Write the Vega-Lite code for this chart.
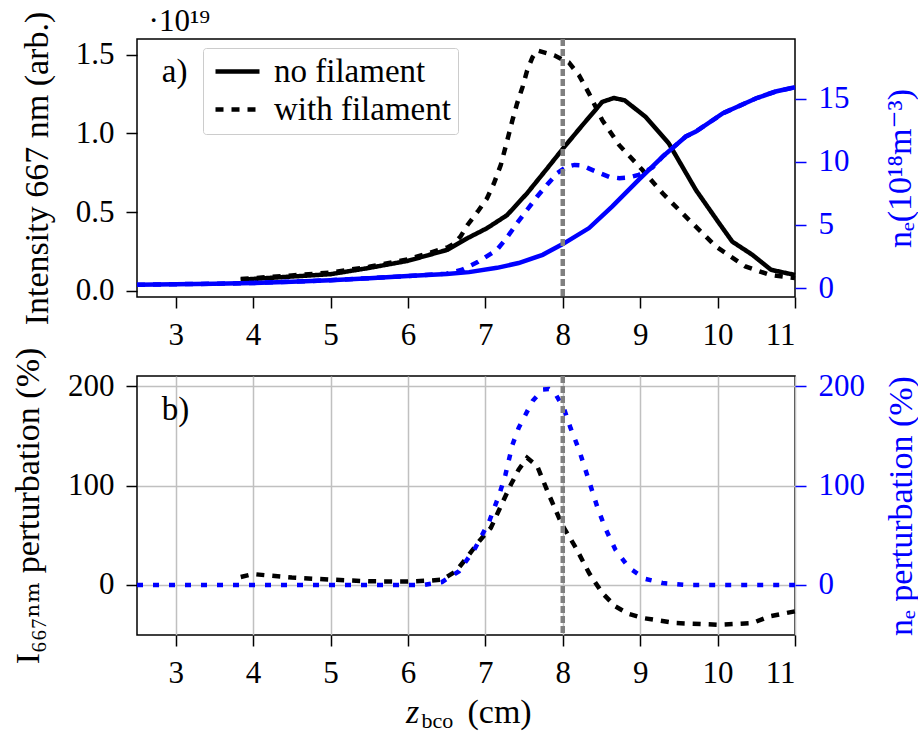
{
  "$schema": "https://vega.github.io/schema/vega-lite/v6.json",
  "padding": {"left": 10, "top": 4, "right": 3, "bottom": 3},
  "background": "white",
  "config": {
    "font": "Liberation Serif, DejaVu Serif, serif",
    "view": {"stroke": "black", "strokeWidth": 1.5},
    "axis": {
      "labelFont": "Liberation Serif, DejaVu Serif, serif", "titleFont": "Liberation Serif, DejaVu Serif, serif",
      "labelFontSize": 31, "titleFontSize": 34, "titleFontWeight": "normal",
      "tickSize": 11, "tickWidth": 1.5, "labelPadding": 12, "domain": false, "grid": false,
      "labelColor": "black", "titleColor": "black", "tickColor": "black", "labelOverlap": false
    },
    "text": {"font": "Liberation Serif, DejaVu Serif, serif"},
    "legend": {"labelFont": "Liberation Serif, DejaVu Serif, serif"}
  },
  "spacing": -5,
  "datasets": {
    "top": [
      {"z": 3.84, "qty": "I", "case": "no filament", "v": 0.07},
      {"z": 4.0, "qty": "I", "case": "no filament", "v": 0.075},
      {"z": 4.5, "qty": "I", "case": "no filament", "v": 0.09},
      {"z": 5.0, "qty": "I", "case": "no filament", "v": 0.105},
      {"z": 5.5, "qty": "I", "case": "no filament", "v": 0.145},
      {"z": 6.0, "qty": "I", "case": "no filament", "v": 0.19},
      {"z": 6.51, "qty": "I", "case": "no filament", "v": 0.26},
      {"z": 6.77, "qty": "I", "case": "no filament", "v": 0.334},
      {"z": 7.02, "qty": "I", "case": "no filament", "v": 0.397},
      {"z": 7.28, "qty": "I", "case": "no filament", "v": 0.48},
      {"z": 7.54, "qty": "I", "case": "no filament", "v": 0.62},
      {"z": 7.8, "qty": "I", "case": "no filament", "v": 0.778},
      {"z": 8.02, "qty": "I", "case": "no filament", "v": 0.914},
      {"z": 8.25, "qty": "I", "case": "no filament", "v": 1.05},
      {"z": 8.51, "qty": "I", "case": "no filament", "v": 1.2},
      {"z": 8.66, "qty": "I", "case": "no filament", "v": 1.225},
      {"z": 8.8, "qty": "I", "case": "no filament", "v": 1.21},
      {"z": 9.07, "qty": "I", "case": "no filament", "v": 1.105},
      {"z": 9.37, "qty": "I", "case": "no filament", "v": 0.936},
      {"z": 9.72, "qty": "I", "case": "no filament", "v": 0.64},
      {"z": 10.02, "qty": "I", "case": "no filament", "v": 0.429},
      {"z": 10.19, "qty": "I", "case": "no filament", "v": 0.312},
      {"z": 10.45, "qty": "I", "case": "no filament", "v": 0.228},
      {"z": 10.69, "qty": "I", "case": "no filament", "v": 0.133},
      {"z": 11.0, "qty": "I", "case": "no filament", "v": 0.1},

      {"z": 3.84, "qty": "I", "case": "with filament", "v": 0.075},
      {"z": 4.0, "qty": "I", "case": "with filament", "v": 0.08},
      {"z": 4.5, "qty": "I", "case": "with filament", "v": 0.097},
      {"z": 5.0, "qty": "I", "case": "with filament", "v": 0.115},
      {"z": 5.5, "qty": "I", "case": "with filament", "v": 0.152},
      {"z": 6.0, "qty": "I", "case": "with filament", "v": 0.2},
      {"z": 6.51, "qty": "I", "case": "with filament", "v": 0.275},
      {"z": 6.6, "qty": "I", "case": "with filament", "v": 0.3},
      {"z": 6.68, "qty": "I", "case": "with filament", "v": 0.345},
      {"z": 6.77, "qty": "I", "case": "with filament", "v": 0.418},
      {"z": 6.9, "qty": "I", "case": "with filament", "v": 0.502},
      {"z": 7.02, "qty": "I", "case": "with filament", "v": 0.586},
      {"z": 7.11, "qty": "I", "case": "with filament", "v": 0.681},
      {"z": 7.2, "qty": "I", "case": "with filament", "v": 0.8},
      {"z": 7.28, "qty": "I", "case": "with filament", "v": 0.95},
      {"z": 7.35, "qty": "I", "case": "with filament", "v": 1.084},
      {"z": 7.41, "qty": "I", "case": "with filament", "v": 1.19},
      {"z": 7.48, "qty": "I", "case": "with filament", "v": 1.294},
      {"z": 7.54, "qty": "I", "case": "with filament", "v": 1.4},
      {"z": 7.61, "qty": "I", "case": "with filament", "v": 1.485},
      {"z": 7.67, "qty": "I", "case": "with filament", "v": 1.527},
      {"z": 7.89, "qty": "I", "case": "with filament", "v": 1.496},
      {"z": 8.02, "qty": "I", "case": "with filament", "v": 1.464},
      {"z": 8.08, "qty": "I", "case": "with filament", "v": 1.45},
      {"z": 8.21, "qty": "I", "case": "with filament", "v": 1.369},
      {"z": 8.34, "qty": "I", "case": "with filament", "v": 1.253},
      {"z": 8.51, "qty": "I", "case": "with filament", "v": 1.084},
      {"z": 8.73, "qty": "I", "case": "with filament", "v": 0.925},
      {"z": 9.03, "qty": "I", "case": "with filament", "v": 0.767},
      {"z": 9.29, "qty": "I", "case": "with filament", "v": 0.619},
      {"z": 9.63, "qty": "I", "case": "with filament", "v": 0.45},
      {"z": 9.98, "qty": "I", "case": "with filament", "v": 0.281},
      {"z": 10.36, "qty": "I", "case": "with filament", "v": 0.154},
      {"z": 10.67, "qty": "I", "case": "with filament", "v": 0.101},
      {"z": 11.0, "qty": "I", "case": "with filament", "v": 0.08},

      {"z": 2.5, "qty": "ne", "case": "no filament", "v": 0.26},
      {"z": 3.0, "qty": "ne", "case": "no filament", "v": 0.3},
      {"z": 3.5, "qty": "ne", "case": "no filament", "v": 0.34},
      {"z": 4.0, "qty": "ne", "case": "no filament", "v": 0.4},
      {"z": 4.5, "qty": "ne", "case": "no filament", "v": 0.5},
      {"z": 5.0, "qty": "ne", "case": "no filament", "v": 0.62},
      {"z": 5.5, "qty": "ne", "case": "no filament", "v": 0.78},
      {"z": 6.0, "qty": "ne", "case": "no filament", "v": 0.95},
      {"z": 6.5, "qty": "ne", "case": "no filament", "v": 1.12},
      {"z": 6.79, "qty": "ne", "case": "no filament", "v": 1.26},
      {"z": 7.15, "qty": "ne", "case": "no filament", "v": 1.6},
      {"z": 7.43, "qty": "ne", "case": "no filament", "v": 1.98},
      {"z": 7.74, "qty": "ne", "case": "no filament", "v": 2.63},
      {"z": 8.0, "qty": "ne", "case": "no filament", "v": 3.48},
      {"z": 8.34, "qty": "ne", "case": "no filament", "v": 4.75},
      {"z": 8.64, "qty": "ne", "case": "no filament", "v": 6.46},
      {"z": 8.98, "qty": "ne", "case": "no filament", "v": 8.57},
      {"z": 9.29, "qty": "ne", "case": "no filament", "v": 10.41},
      {"z": 9.59, "qty": "ne", "case": "no filament", "v": 12.0},
      {"z": 9.72, "qty": "ne", "case": "no filament", "v": 12.39},
      {"z": 10.07, "qty": "ne", "case": "no filament", "v": 13.84},
      {"z": 10.5, "qty": "ne", "case": "no filament", "v": 15.03},
      {"z": 10.75, "qty": "ne", "case": "no filament", "v": 15.56},
      {"z": 11.0, "qty": "ne", "case": "no filament", "v": 15.9},

      {"z": 2.5, "qty": "ne", "case": "with filament", "v": 0.26},
      {"z": 3.0, "qty": "ne", "case": "with filament", "v": 0.3},
      {"z": 3.5, "qty": "ne", "case": "with filament", "v": 0.34},
      {"z": 4.0, "qty": "ne", "case": "with filament", "v": 0.4},
      {"z": 4.5, "qty": "ne", "case": "with filament", "v": 0.5},
      {"z": 5.0, "qty": "ne", "case": "with filament", "v": 0.62},
      {"z": 5.5, "qty": "ne", "case": "with filament", "v": 0.78},
      {"z": 6.0, "qty": "ne", "case": "with filament", "v": 0.95},
      {"z": 6.5, "qty": "ne", "case": "with filament", "v": 1.14},
      {"z": 6.7, "qty": "ne", "case": "with filament", "v": 1.45},
      {"z": 6.9, "qty": "ne", "case": "with filament", "v": 2.05},
      {"z": 7.15, "qty": "ne", "case": "with filament", "v": 3.03},
      {"z": 7.28, "qty": "ne", "case": "with filament", "v": 4.0},
      {"z": 7.41, "qty": "ne", "case": "with filament", "v": 5.14},
      {"z": 7.54, "qty": "ne", "case": "with filament", "v": 6.2},
      {"z": 7.67, "qty": "ne", "case": "with filament", "v": 7.25},
      {"z": 7.8, "qty": "ne", "case": "with filament", "v": 8.2},
      {"z": 7.93, "qty": "ne", "case": "with filament", "v": 9.1},
      {"z": 8.05, "qty": "ne", "case": "with filament", "v": 9.6},
      {"z": 8.15, "qty": "ne", "case": "with filament", "v": 9.75},
      {"z": 8.25, "qty": "ne", "case": "with filament", "v": 9.7},
      {"z": 8.43, "qty": "ne", "case": "with filament", "v": 9.22},
      {"z": 8.6, "qty": "ne", "case": "with filament", "v": 8.8},
      {"z": 8.73, "qty": "ne", "case": "with filament", "v": 8.7},
      {"z": 8.85, "qty": "ne", "case": "with filament", "v": 8.75},
      {"z": 8.98, "qty": "ne", "case": "with filament", "v": 8.96},
      {"z": 9.16, "qty": "ne", "case": "with filament", "v": 9.55},
      {"z": 9.29, "qty": "ne", "case": "with filament", "v": 10.41},
      {"z": 9.59, "qty": "ne", "case": "with filament", "v": 12.0},
      {"z": 9.72, "qty": "ne", "case": "with filament", "v": 12.39},
      {"z": 10.07, "qty": "ne", "case": "with filament", "v": 13.84},
      {"z": 10.5, "qty": "ne", "case": "with filament", "v": 15.03},
      {"z": 10.75, "qty": "ne", "case": "with filament", "v": 15.56},
      {"z": 11.0, "qty": "ne", "case": "with filament", "v": 15.9}
    ],
    "bottom": [
      {"z": 3.84, "qty": "I", "v": 8},
      {"z": 4.0, "qty": "I", "v": 11},
      {"z": 4.2, "qty": "I", "v": 9.5},
      {"z": 4.5, "qty": "I", "v": 7.5},
      {"z": 5.0, "qty": "I", "v": 5.4},
      {"z": 5.5, "qty": "I", "v": 3.7},
      {"z": 6.0, "qty": "I", "v": 3.5},
      {"z": 6.3, "qty": "I", "v": 4.5},
      {"z": 6.44, "qty": "I", "v": 5.3},
      {"z": 6.62, "qty": "I", "v": 13.8},
      {"z": 6.74, "qty": "I", "v": 25.5},
      {"z": 6.92, "qty": "I", "v": 44},
      {"z": 7.07, "qty": "I", "v": 57.4},
      {"z": 7.2, "qty": "I", "v": 79.3},
      {"z": 7.33, "qty": "I", "v": 101},
      {"z": 7.43, "qty": "I", "v": 116},
      {"z": 7.54, "qty": "I", "v": 127.9},
      {"z": 7.67, "qty": "I", "v": 119.5},
      {"z": 7.82, "qty": "I", "v": 91},
      {"z": 7.99, "qty": "I", "v": 60.7},
      {"z": 8.17, "qty": "I", "v": 37.3},
      {"z": 8.34, "qty": "I", "v": 12},
      {"z": 8.51, "qty": "I", "v": -8},
      {"z": 8.68, "qty": "I", "v": -21.5},
      {"z": 8.85, "qty": "I", "v": -29},
      {"z": 9.03, "qty": "I", "v": -33.2},
      {"z": 9.46, "qty": "I", "v": -38.3},
      {"z": 10.02, "qty": "I", "v": -40},
      {"z": 10.45, "qty": "I", "v": -38.3},
      {"z": 10.67, "qty": "I", "v": -31.5},
      {"z": 11.0, "qty": "I", "v": -26.5},

      {"z": 2.5, "qty": "ne", "v": 0},
      {"z": 6.2, "qty": "ne", "v": 0},
      {"z": 6.44, "qty": "ne", "v": 3},
      {"z": 6.66, "qty": "ne", "v": 13.8},
      {"z": 6.87, "qty": "ne", "v": 37.3},
      {"z": 7.05, "qty": "ne", "v": 64},
      {"z": 7.18, "qty": "ne", "v": 91},
      {"z": 7.26, "qty": "ne", "v": 111},
      {"z": 7.35, "qty": "ne", "v": 141},
      {"z": 7.43, "qty": "ne", "v": 158},
      {"z": 7.52, "qty": "ne", "v": 171.5},
      {"z": 7.61, "qty": "ne", "v": 185},
      {"z": 7.74, "qty": "ne", "v": 196.7},
      {"z": 7.82, "qty": "ne", "v": 197},
      {"z": 7.91, "qty": "ne", "v": 191.6},
      {"z": 8.02, "qty": "ne", "v": 176.5},
      {"z": 8.1, "qty": "ne", "v": 158},
      {"z": 8.21, "qty": "ne", "v": 136},
      {"z": 8.34, "qty": "ne", "v": 104.4},
      {"z": 8.45, "qty": "ne", "v": 77.5},
      {"z": 8.55, "qty": "ne", "v": 57},
      {"z": 8.68, "qty": "ne", "v": 35.5},
      {"z": 8.86, "qty": "ne", "v": 17},
      {"z": 9.07, "qty": "ne", "v": 6},
      {"z": 9.29, "qty": "ne", "v": 2},
      {"z": 9.6, "qty": "ne", "v": 0},
      {"z": 11.0, "qty": "ne", "v": 0}
    ],
    "marker": [{"z": 8}],
    "labelA": [{"label": "a)"}],
    "labelB": [{"label": "b)"}],
    "exponent": [{"label": "·10¹⁹"}]
  },
  "vconcat": [
    {
      "width": 658,
      "height": 258,
      "layer": [
        {
          "layer": [
            {
              "data": {"name": "top"},
              "transform": [{"filter": "datum.qty == 'I'"}],
              "mark": {"type": "line", "strokeWidth": 4.5, "color": "black", "strokeCap": "butt"},
              "encoding": {
                "x": {"field": "z", "type": "quantitative", "scale": {"domain": [2.5, 11], "nice": false, "zero": false},
                      "axis": {"orient": "bottom", "values": [3, 4, 5, 6, 7, 8, 9, 10, 11], "format": "d", "title": null}},
                "y": {"field": "v", "type": "quantitative", "scale": {"domain": [-0.04, 1.6], "nice": false, "zero": false},
                      "axis": {"orient": "left", "values": [0, 0.5, 1, 1.5], "format": ".1f", "title": "Intensity 667 nm (arb.)", "titlePadding": 21, "minExtent": 62, "maxExtent": 62}},
                "strokeDash": {"field": "case", "type": "nominal",
                  "scale": {"domain": ["no filament", "with filament"], "range": [[1, 0], [8, 8]]},
                  "legend": {"title": null, "orient": "none", "legendX": 66, "legendY": 9, "symbolType": "M-1,0H3", "symbolSize": 484, "symbolStrokeWidth": 4.5, "symbolStrokeColor": "black", "labelFontSize": 33, "labelColor": "black", "labelOffset": 31, "rowPadding": 4, "padding": 7, "strokeColor": "#cccccc", "fillColor": "white", "cornerRadius": 3, "labelLimit": 400}}
              }
            },
            {
              "data": {"name": "labelA"},
              "mark": {"type": "text", "fontSize": 33, "align": "left", "baseline": "alphabetic", "color": "black"},
              "encoding": {
                "x": {"datum": 2.82, "type": "quantitative"},
                "y": {"datum": 1.324, "type": "quantitative"},
                "text": {"field": "label"}
              }
            },
            {
              "data": {"name": "exponent"},
              "mark": {"type": "text", "fontSize": 31, "align": "left", "baseline": "alphabetic", "color": "black"},
              "encoding": {
                "x": {"datum": 2.65, "type": "quantitative"},
                "y": {"datum": 1.654, "type": "quantitative"},
                "text": {"field": "label"}
              }
            }
          ]
        },
        {
          "layer": [
            {
              "data": {"name": "top"},
              "transform": [{"filter": "datum.qty == 'ne' && datum.case == 'no filament'"}],
              "mark": {"type": "line", "strokeWidth": 4.5, "color": "#0000ff"},
              "encoding": {
                "x": {"field": "z", "type": "quantitative"},
                "y": {"field": "v", "type": "quantitative", "scale": {"domain": [-0.71, 19.72], "nice": false, "zero": false},
                      "axis": {"orient": "right", "values": [0, 5, 10, 15], "title": "nₑ(10¹⁸m⁻³)", "titleAngle": 270, "titleBaseline": "top", "titlePadding": 34, "labelColor": "#0000ff", "tickColor": "#0000ff", "titleColor": "#0000ff"}}
              }
            },
            {
              "data": {"name": "top"},
              "transform": [{"filter": "datum.qty == 'ne' && datum.case == 'with filament'"}],
              "mark": {"type": "line", "strokeWidth": 4.5, "color": "#0000ff", "strokeDash": [8, 8]},
              "encoding": {
                "x": {"field": "z", "type": "quantitative"},
                "y": {"field": "v", "type": "quantitative"}
              }
            }
          ]
        },
        {
          "layer": [
            {
              "data": {"name": "marker"},
              "mark": {"type": "rule", "color": "#808080", "strokeWidth": 4.5, "strokeDash": [7, 3]},
              "encoding": {"x": {"field": "z", "type": "quantitative"}}
            }
          ]
        }
      ],
      "resolve": {"scale": {"y": "independent"}}
    },
    {
      "width": 658,
      "height": 259,
      "layer": [
        {
          "layer": [
            {
              "data": {"name": "bottom"},
              "transform": [{"filter": "datum.qty == 'I'"}],
              "mark": {"type": "line", "strokeWidth": 4.5, "color": "black", "strokeDash": [8, 8]},
              "encoding": {
                "x": {"field": "z", "type": "quantitative", "scale": {"domain": [2.5, 11], "nice": false, "zero": false},
                      "axis": {"orient": "bottom", "values": [3, 4, 5, 6, 7, 8, 9, 10, 11], "format": "d", "grid": true, "gridColor": "#c0c0c0", "gridWidth": 1.5,
                               "title": "(cm)", "titleX": 330, "titleY": 87, "titleAlign": "left", "titleBaseline": "alphabetic", "titleAnchor": "start"}},
                "y": {"field": "v", "type": "quantitative", "scale": {"domain": [-50.3, 210.2], "nice": false, "zero": false},
                      "axis": {"orient": "left", "values": [0, 100, 200], "format": "d", "grid": true, "gridColor": "#c0c0c0", "gridWidth": 1.5, "title": "I₆₆₇ₙₘ perturbation (%)", "titlePadding": 22, "minExtent": 70, "maxExtent": 70}}
              }
            },
            {
              "data": {"name": "labelB"},
              "mark": {"type": "text", "fontSize": 33, "align": "left", "baseline": "alphabetic", "color": "black"},
              "encoding": {
                "x": {"datum": 2.82, "type": "quantitative"},
                "y": {"datum": 166, "type": "quantitative"},
                "text": {"field": "label"}
              }
            }
          ]
        },
        {
          "layer": [
            {
              "data": {"name": "bottom"},
              "transform": [{"filter": "datum.qty == 'ne'"}],
              "mark": {"type": "line", "strokeWidth": 4.5, "color": "#0000ff", "strokeDash": [6, 10]},
              "encoding": {
                "x": {"field": "z", "type": "quantitative",
                      "axis": {"orient": "bottom", "labels": false, "ticks": false, "grid": false, "domain": false,
                               "title": "z", "titleFontStyle": "italic", "titleX": 275, "titleY": 87, "titleAlign": "center", "titleBaseline": "alphabetic"}},
                "y": {"field": "v", "type": "quantitative", "scale": {"domain": [-50.3, 210.2], "nice": false, "zero": false},
                      "axis": {"orient": "right", "values": [0, 100, 200], "format": "d", "title": "nₑ perturbation (%)", "titleAngle": 270, "titleBaseline": "top", "titlePadding": 20, "labelColor": "#0000ff", "tickColor": "#0000ff", "titleColor": "#0000ff"}}
              }
            }
          ]
        },
        {
          "layer": [
            {
              "data": {"name": "marker"},
              "mark": {"type": "rule", "color": "#808080", "strokeWidth": 4.5, "strokeDash": [7, 3]},
              "encoding": {"x": {"field": "z", "type": "quantitative",
                "axis": {"orient": "bottom", "labels": false, "ticks": false, "grid": false, "domain": false,
                         "title": "bco", "titleFontSize": 22, "titleX": 284, "titleY": 92, "titleAlign": "left", "titleBaseline": "alphabetic"}}}
            }
          ]
        }
      ],
      "resolve": {"scale": {"y": "independent"}, "axis": {"x": "independent"}}
    }
  ]
}
